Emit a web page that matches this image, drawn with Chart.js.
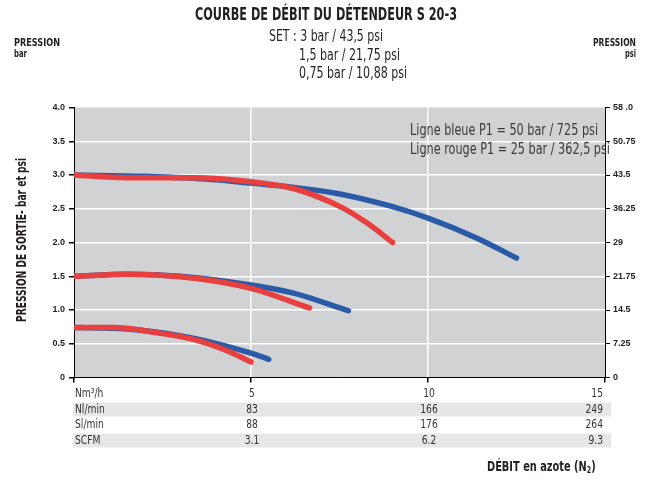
<!DOCTYPE html>
<html>
<head>
<meta charset="utf-8">
<script src="https://cdn.jsdelivr.net/npm/chart.js@4.4.0/dist/chart.umd.min.js"></script>
<style>
html, body { margin: 0; padding: 0; background: #fff; }
</style>
</head>
<body>
<canvas id="Chart1" width="652" height="480"></canvas>
<script>
// curves: flow (Nm3/h) and outlet pressure (bar)
var blueHighFlow = [0, 2, 4, 5, 6, 7.4, 9, 10, 11.4, 12.5];
var blueHighBar  = [3.0, 2.98, 2.93, 2.88, 2.83, 2.73, 2.53, 2.36, 2.06, 1.77];
var redHighFlow  = [0, 1.5, 3.4, 5, 6.2, 7.6, 8.3, 9.0];
var redHighBar   = [3.0, 2.96, 2.96, 2.90, 2.80, 2.51, 2.28, 2.0];
var blueMidFlow  = [0, 1.5, 3, 5, 6.2, 7.75];
var blueMidBar   = [1.5, 1.53, 1.50, 1.37, 1.25, 0.99];
var redMidFlow   = [0, 1.5, 3.4, 5, 6.65];
var redMidBar    = [1.5, 1.53, 1.47, 1.32, 1.03];
var blueLowFlow  = [0, 1.5, 3.4, 5, 5.5];
var blueLowBar   = [0.74, 0.72, 0.58, 0.36, 0.27];
var redLowFlow   = [0, 1.1, 2.5, 3.4, 4.3, 5.0];
var redLowBar    = [0.74, 0.74, 0.65, 0.56, 0.40, 0.23];

// axis labels
var barTicks = ['0', '0.5', '1.0', '1.5', '2.0', '2.5', '3.0', '3.5', '4.0'];
var psiTicks = ['0', '7.25', '14.5', '21.75', '29', '36.25', '43.5', '50.75', '58 .0'];

// flow table under the x axis
var flowTicks = [5, 10, 15];
var nlMin = ['83', '166', '249'];
var slMin = ['88', '176', '264'];
var scfm  = ['3.1', '6.2', '9.3'];
var rowNames = ['Nm\u00b3/h', 'Nl/min', 'Sl/min', 'SCFM'];

var BLUE = '#2b5ba8', RED = '#e8403f';
var NARROW = '"Liberation Sans Narrow", "DejaVu Sans Condensed", "Liberation Sans", sans-serif';

function pts(xs, ys) {
    return xs.map(function (x, i) { return {x: x, y: ys[i]}; });
}
function curve(xs, ys, color) {
    return {
        data: pts(xs, ys),
        borderColor: color,
        borderWidth: 5.5,
        borderCapStyle: 'round',
        borderJoinStyle: 'round',
        pointRadius: 0,
        fill: false,
        cubicInterpolationMode: 'monotone'
    };
}

// draw text squeezed/stretched to a given width (the original font is a condensed one)
function fitText(ctx, s, x, y, w, font, align, color) {
    ctx.save();
    ctx.font = font;
    ctx.fillStyle = color || '#231f20';
    ctx.textBaseline = 'middle';
    ctx.textAlign = align;
    var k = w / ctx.measureText(s).width;
    ctx.translate(x, y);
    ctx.scale(k, 1);
    ctx.fillText(s, 0, 0);
    ctx.restore();
}
function narrowText(ctx, s, x, y, k, font, align, color) {
    ctx.save();
    ctx.font = font;
    ctx.fillStyle = color || '#231f20';
    ctx.textBaseline = 'middle';
    ctx.textAlign = align;
    ctx.translate(x, y);
    ctx.scale(k, 1);
    ctx.fillText(s, 0, 0);
    ctx.restore();
}

var backdrop = {
    id: 'backdrop',
    beforeDraw: function (chart) {
        var c = chart.ctx, a = chart.chartArea;
        c.save();
        c.fillStyle = '#fff';
        c.fillRect(0, 0, chart.width, chart.height);
        c.fillStyle = '#d1d2d4';
        c.fillRect(a.left, a.top, a.right - a.left, a.bottom - a.top);
        c.restore();
    }
};

var texts = {
    id: 'texts',
    afterDraw: function (chart) {
        var c = chart.ctx;
        var xs = chart.scales.x;

        // header
        fitText(c, 'COURBE DE D\u00c9BIT DU D\u00c9TENDEUR S 20-3', 326, 16, 262, 'bold 17px ' + NARROW, 'center');
        fitText(c, 'SET : 3 bar / 43,5 psi', 269, 37, 114, '16px ' + NARROW, 'left');
        fitText(c, '1,5 bar / 21,75 psi', 299, 56, 101, '16px ' + NARROW, 'left');
        fitText(c, '0,75 bar / 10,88 psi', 299, 74, 108, '16px ' + NARROW, 'left');

        fitText(c, 'PRESSION', 14, 43.5, 46, 'bold 11px ' + NARROW, 'left');
        fitText(c, 'bar', 14, 54.5, 13, 'bold 11px ' + NARROW, 'left');
        fitText(c, 'PRESSION', 636, 43.5, 43, 'bold 11px ' + NARROW, 'right');
        fitText(c, 'psi', 636, 54.5, 11, 'bold 11px ' + NARROW, 'right');

        // legend note inside the plot
        fitText(c, 'Ligne bleue P1 = 50 bar / 725 psi', 410, 131, 188, '16px ' + NARROW, 'left', '#3a3a3a');
        fitText(c, 'Ligne rouge P1 = 25 bar / 362,5 psi', 410, 150, 200, '16px ' + NARROW, 'left', '#3a3a3a');

        // left axis title
        c.save();
        c.translate(22, 240);
        c.rotate(-Math.PI / 2);
        fitText(c, 'PRESSION DE SORTIE- bar et psi', 0, 0, 164, 'bold 14px ' + NARROW, 'center');
        c.restore();

        // flow table
        var x0 = xs.getPixelForValue(0);
        var xEnd = xs.getPixelForValue(15);
        var rowY = [394, 409.5, 425, 440.5];
        c.save();
        c.fillStyle = '#e6e7e8';
        c.fillRect(x0 - 1, rowY[1] - 7, xEnd + 7 - x0, 14);
        c.fillRect(x0 - 1, rowY[3] - 7, xEnd + 7 - x0, 14);
        c.restore();
        var rows = [flowTicks.map(String), nlMin, slMin, scfm];
        var f = '12px ' + NARROW;
        rows.forEach(function (vals, r) {
            narrowText(c, rowNames[r], x0 + 1, rowY[r], 0.85, f, 'left', '#333');
            vals.forEach(function (v, i) {
                var px = xs.getPixelForValue(flowTicks[i]);
                if (i === vals.length - 1) {
                    narrowText(c, v, px - 2, rowY[r], 0.85, f, 'right', '#333');
                } else {
                    narrowText(c, v, px + 1, rowY[r], 0.85, f, 'center', '#333');
                }
            });
        });

        // x axis title with subscript
        c.save();
        c.fillStyle = '#231f20';
        c.textBaseline = 'middle';
        c.textAlign = 'left';
        c.translate(487, 467);
        c.scale(0.78, 1);
        c.font = 'bold 14px ' + NARROW;
        var t1 = 'D\u00c9BIT en azote (N';
        c.fillText(t1, 0, 0);
        var w1 = c.measureText(t1).width;
        c.font = 'bold 9px ' + NARROW;
        c.fillText('2', w1, 4);
        var w2 = c.measureText('2').width;
        c.font = 'bold 14px ' + NARROW;
        c.fillText(')', w1 + w2, 0);
        c.restore();
    }
};

var ctxL = document.getElementById('Chart1').getContext('2d');
var myChart = new Chart(ctxL, {
    type: 'line',
    data: {
        datasets: [
            curve(redHighFlow, redHighBar, RED),
            curve(redMidFlow, redMidBar, RED),
            curve(redLowFlow, redLowBar, RED),
            curve(blueHighFlow, blueHighBar, BLUE),
            curve(blueMidFlow, blueMidBar, BLUE),
            curve(blueLowFlow, blueLowBar, BLUE)
        ]
    },
    options: {
        responsive: false,
        animation: false,
        devicePixelRatio: 1,
        layout: { padding: { top: 107.5, left: 0, right: 0, bottom: 0 } },
        plugins: {
            legend: { display: false },
            tooltip: { enabled: false }
        },
        scales: {
            x: {
                type: 'linear',
                min: 0,
                max: 15,
                ticks: { stepSize: 5, display: false },
                grid: {
                    color: function (c) {
                        return (c.tick && (c.tick.value === 0 || c.tick.value === 15)) ? 'rgba(0,0,0,0)' : '#ffffff';
                    },
                    lineWidth: 1.5,
                    tickColor: '#000',
                    tickLength: 5
                },
                border: { color: '#000', width: 1 },
                afterFit: function (s) { s.height = 102.5; }
            },
            y: {
                position: 'left',
                min: 0,
                max: 4,
                ticks: {
                    stepSize: 0.5,
                    callback: function (v, i) { return barTicks[i]; },
                    font: { family: 'Liberation Sans', weight: 'bold', size: 9 },
                    color: '#231f20',
                    padding: 4
                },
                grid: {
                    color: function (c) {
                        return (c.tick && (c.tick.value === 0 || c.tick.value === 4)) ? 'rgba(0,0,0,0)' : '#ffffff';
                    },
                    lineWidth: 1.5,
                    tickColor: '#000',
                    tickLength: 5
                },
                border: { color: '#000', width: 1 },
                afterFit: function (s) { s.width = 74; }
            },
            y2: {
                position: 'right',
                min: 0,
                max: 58,
                ticks: {
                    stepSize: 7.25,
                    callback: function (v, i) { return psiTicks[i]; },
                    font: { family: 'Liberation Sans', weight: 'bold', size: 9 },
                    color: '#231f20',
                    padding: 3
                },
                grid: {
                    drawOnChartArea: false,
                    tickColor: '#000',
                    tickLength: 5
                },
                border: { color: '#000', width: 1 },
                afterFit: function (s) { s.width = 47; }
            }
        }
    },
    plugins: [backdrop, texts]
});
</script>
</body>
</html>
